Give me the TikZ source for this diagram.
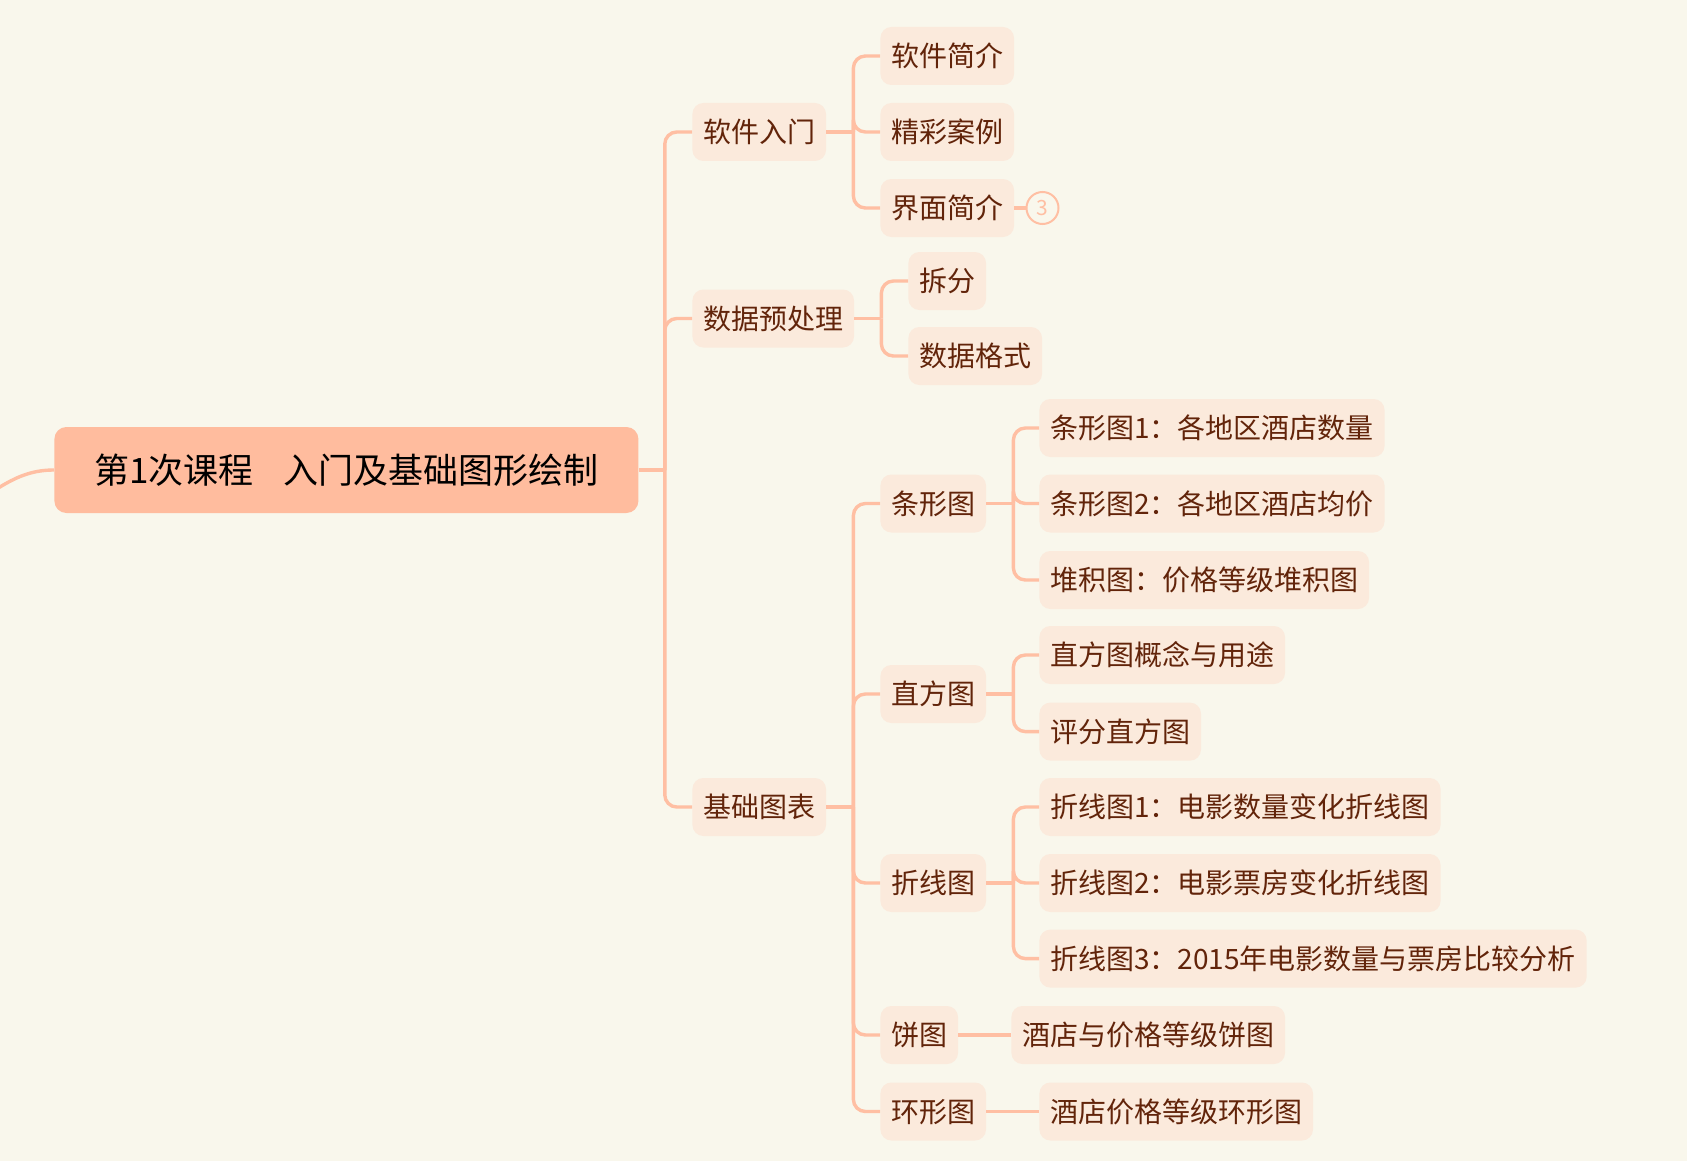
\documentclass[tikz,border=0pt]{standalone}
\usepackage{fontspec}
\newfontfamily\cjk{Noto Sans CJK SC}
\usepackage{tikz}
\usetikzlibrary{positioning}
\definecolor{softcream}{HTML}{F9F7EC}
\definecolor{softsalmon}{HTML}{FFBC9E}
\definecolor{softpeach}{HTML}{FBEADC}
\definecolor{linesalmon}{HTML}{FFBFA3}
\definecolor{darkbrown}{HTML}{62240A}

\begin{document}
\begin{tikzpicture}[
    x=0.5pt, y=-0.5pt,
    root/.style={
        fill=softsalmon,
        rounded corners=6pt,
        font=\cjk\fontsize{17.5}{20}\selectfont,
        text=black,
        anchor=west,
        minimum width=292pt,
        minimum height=43pt,
        text height=15.4pt,
        text depth=2.1pt
    },
    topic/.style={
        fill=softpeach,
        rounded corners=5.5pt,
        font=\cjk\fontsize{14}{16}\selectfont,
        text=darkbrown,
        anchor=west,
        inner xsep=5.4pt,
        inner ysep=0pt,
        minimum height=29pt,
        text height=12.3pt,
        text depth=1.7pt
    },
    counter/.style={
        circle,
        draw=linesalmon,
        line width=1pt,
        fill=softcream,
        text=linesalmon,
        inner sep=0pt,
        minimum size=16pt,
        font=\cjk\fontsize{10.5}{11}\selectfont
    },
    link/.style={draw=linesalmon, line width=1.7pt, rounded corners=6pt}
]

\useasboundingbox (0,0) rectangle (1687,1161);
\fill[softcream] (0,0) rectangle (1687,1161);

% COURSE
\node[root] (course) at (54,470)
{第1次课程\hspace{0.85em}入门及基础图形绘制};

\coordinate (lead) at (-40,510);
\draw[link] (course.west) to[out=180,in=25] (lead);

% MAIN TOPICS
\node[topic] (software) at (692,132) {软件入门};
\node[topic] (prep) at (692,318.5) {数据预处理};
\node[topic] (charts) at (692,807) {基础图表};

\coordinate (course-j) at ([xshift=13pt]course.east);
\draw[link] (course.east) -- (course-j);
\draw[link] (course-j) |- (software.west);
\draw[link] (course-j) |- (prep.west);
\draw[link] (course-j) |- (charts.west);

% SOFTWARE INTRO
\node[topic] (intro) at (880,56) {软件简介};
\node[topic] (cases) at (880,132) {精彩案例};
\node[topic] (ui) at (880,208) {界面简介};
\node[counter] (uicount) at (1042.5,208) {3};

\coordinate (software-j) at ([xshift=13.5pt]software.east);
\draw[link] (software.east) -- (software-j);
\draw[link] (software-j) |- (intro.west);
\draw[link] (software-j) |- (cases.west);
\draw[link] (software-j) |- (ui.west);
\draw[link] (ui.east) -- (uicount.west);

% DATA PREPROCESSING
\node[topic] (split) at (908,281) {拆分};
\node[topic] (format) at (908,356) {数据格式};

\coordinate (prep-j) at ([xshift=13.5pt]prep.east);
\draw[link] (prep.east) -- (prep-j);
\draw[link] (prep-j) |- (split.west);
\draw[link] (prep-j) |- (format.west);

% BASIC CHARTS
\node[topic] (bar) at (880,503.5) {条形图};
\node[topic] (hist) at (880,694) {直方图};
\node[topic] (polyline) at (880,883) {折线图};
\node[topic] (pie) at (880,1035) {饼图};
\node[topic] (ring) at (880,1111.5) {环形图};

\coordinate (charts-j) at ([xshift=13.5pt]charts.east);
\draw[link] (charts.east) -- (charts-j);
\draw[link] (charts-j) |- (bar.west);
\draw[link] (charts-j) |- (hist.west);
\draw[link] (charts-j) |- (polyline.west);
\draw[link] (charts-j) |- (pie.west);
\draw[link] (charts-j) |- (ring.west);

% BAR CHARTS
\node[topic] (bar1) at (1039,428) {条形图1：各地区酒店数量};
\node[topic] (bar2) at (1039,503.5) {条形图2：各地区酒店均价};
\node[topic] (stack) at (1039,580) {堆积图：价格等级堆积图};

\coordinate (bar-j) at ([xshift=13.5pt]bar.east);
\draw[link] (bar.east) -- (bar-j);
\draw[link] (bar-j) |- (bar1.west);
\draw[link] (bar-j) |- (bar2.west);
\draw[link] (bar-j) |- (stack.west);

% HISTOGRAMS
\node[topic] (hist1) at (1039,655) {直方图概念与用途};
\node[topic] (hist2) at (1039,731.6) {评分直方图};

\coordinate (hist-j) at ([xshift=13.5pt]hist.east);
\draw[link] (hist.east) -- (hist-j);
\draw[link] (hist-j) |- (hist1.west);
\draw[link] (hist-j) |- (hist2.west);

% LINE CHARTS
\node[topic] (line1) at (1039,807) {折线图1：电影数量变化折线图};
\node[topic] (line2) at (1039,883) {折线图2：电影票房变化折线图};
\node[topic] (line3) at (1039,958.6) {折线图3：2015年电影数量与票房比较分析};

\coordinate (polyline-j) at ([xshift=13.5pt]polyline.east);
\draw[link] (polyline.east) -- (polyline-j);
\draw[link] (polyline-j) |- (line1.west);
\draw[link] (polyline-j) |- (line2.west);
\draw[link] (polyline-j) |- (line3.west);

% PIE AND RING
\node[topic] (piehotel) at (1011,1035) {酒店与价格等级饼图};
\node[topic] (ringhotel) at (1039,1111.5) {酒店价格等级环形图};

\draw[link] (pie.east) -- (piehotel.west);
\draw[link] (ring.east) -- (ringhotel.west);

\end{tikzpicture}
\end{document}
